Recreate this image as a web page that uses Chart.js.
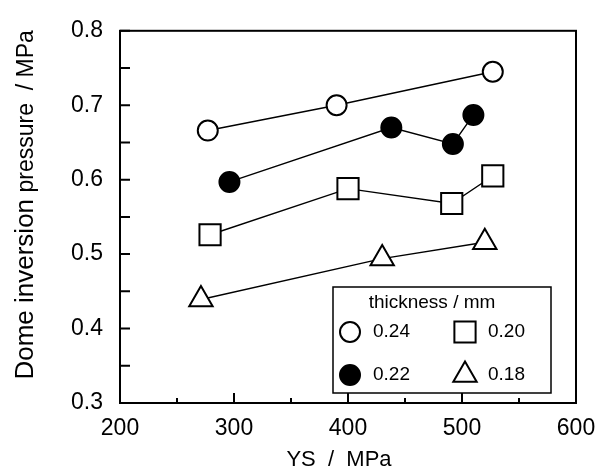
<!DOCTYPE html>
<html>
<head>
<meta charset="utf-8">
<script src="https://cdn.jsdelivr.net/npm/chart.js@4.4.1/dist/chart.umd.min.js"></script>
<style>
  html, body { margin: 0; padding: 0; background: #fff; }
  #wrap { width: 608px; height: 468px; }
</style>
</head>
<body>
<div id="wrap"><canvas id="c" width="608" height="468"></canvas></div>
<script>
"use strict";

// yield strength (MPa) vs dome inversion pressure (MPa), per sheet thickness
const thickLabels = ["0.24", "0.22", "0.20", "0.18"];
const ys024 = [277, 390, 527];
const p024  = [0.666, 0.700, 0.745];
const ys022 = [296, 438, 492, 510];
const p022  = [0.597, 0.670, 0.648, 0.687];
const ys020 = [279, 400, 491, 527];
const p020  = [0.526, 0.588, 0.568, 0.605];
const ys018 = [271, 430, 520];
const p018  = [0.439, 0.494, 0.516];

const xMajor = [200, 300, 400, 500, 600];
const xMinor = [250, 350, 450, 550];
const yMajor = [0.3, 0.4, 0.5, 0.6, 0.7, 0.8];
const yTicks = [0.3, 0.35, 0.4, 0.45, 0.5, 0.55, 0.6, 0.65, 0.7, 0.75, 0.8];

const X_TITLE = "YS  /  MPa";
const Y_TITLE_A = "Dome inversion";
const Y_TITLE_B = " pressure  / MPa";

const FONT = "'Liberation Sans', Arial, Helvetica, sans-serif";
const INK = "#000";

const toPts = (xs, ys) => xs.map((x, i) => ({ x, y: ys[i] }));

function series(label, xs, ys, style, fill, radius) {
  return {
    label,
    data: toPts(xs, ys),
    showLine: true,
    borderColor: INK,
    borderWidth: 1.4,
    pointStyle: style,
    pointRadius: radius,
    pointHoverRadius: radius,
    pointBackgroundColor: fill,
    pointBorderColor: INK,
    pointBorderWidth: 2,
  };
}

/* ── frame + inward ticks ─────────────────────────── */
const framePlugin = {
  id: "frame",
  beforeDatasetsDraw(chart) {
    const { ctx, chartArea: a, scales: { x, y } } = chart;
    ctx.save();
    ctx.strokeStyle = INK;
    ctx.lineWidth = 2;
    ctx.strokeRect(a.left, a.top, a.right - a.left, a.bottom - a.top);
    ctx.beginPath();
    xMajor.forEach(v => {
      const px = x.getPixelForValue(v);
      ctx.moveTo(px, a.bottom); ctx.lineTo(px, a.bottom - 10);
    });
    xMinor.forEach(v => {
      const px = x.getPixelForValue(v);
      ctx.moveTo(px, a.bottom); ctx.lineTo(px, a.bottom - 5);
    });
    yTicks.forEach(v => {
      const py = y.getPixelForValue(v);
      ctx.moveTo(a.left, py); ctx.lineTo(a.left + 10, py);
    });
    ctx.stroke();
    ctx.restore();
  },
};

/* ── axis titles (y title uses two sizes like the original) ── */
const titlesPlugin = {
  id: "titles",
  afterDraw(chart) {
    const { ctx, chartArea: a } = chart;
    ctx.save();
    ctx.fillStyle = INK;
    ctx.textBaseline = "middle";
    ctx.textAlign = "center";
    ctx.font = "22px " + FONT;
    ctx.fillText(X_TITLE, (a.left + a.right) / 2 - 9, chart.height - 8);

    ctx.textAlign = "left";
    ctx.textBaseline = "alphabetic";
    const fA = "26px " + FONT, fB = "23px " + FONT;
    ctx.font = fA; const wA = ctx.measureText(Y_TITLE_A).width;
    ctx.font = fB; const wB = ctx.measureText(Y_TITLE_B).width;
    const mid = (a.top + a.bottom) / 2 - 12;
    ctx.translate(33, mid + (wA + wB) / 2);
    ctx.rotate(-Math.PI / 2);
    ctx.font = fA; ctx.fillText(Y_TITLE_A, 0, 0);
    ctx.font = fB; ctx.fillText(Y_TITLE_B, wA, 0);
    ctx.restore();
  },
};

/* ── boxed 2x2 legend inside plot ─────────────────── */
const legendBox = {
  id: "legendBox",
  afterDatasetsDraw(chart) {
    const { ctx, chartArea: a } = chart;
    const w = 218, h = 106;
    const x1 = a.right - 25 - w, y1 = a.bottom - 10 - h;
    ctx.save();
    ctx.fillStyle = "#fff";
    ctx.fillRect(x1, y1, w, h);
    ctx.strokeStyle = INK;
    ctx.lineWidth = 1.5;
    ctx.strokeRect(x1, y1, w, h);

    ctx.fillStyle = INK;
    ctx.font = "19px " + FONT;
    ctx.textAlign = "center";
    ctx.textBaseline = "middle";
    ctx.fillText("thickness / mm", x1 + 99, y1 + 16);

    ctx.textAlign = "left";
    chart.data.datasets.forEach((ds, i) => {
      const col = Math.floor(i / 2), row = i % 2;
      const mx = x1 + (col ? 132 : 17);
      const my = y1 + (row ? 88 : 45);
      ctx.fillStyle = ds.pointBackgroundColor;
      ctx.strokeStyle = INK;
      ctx.lineWidth = 2;
      Chart.helpers.drawPoint(ctx, { pointStyle: ds.pointStyle, radius: ds.pointRadius, borderWidth: 2, rotation: 0 }, mx, my);
      ctx.fillStyle = INK;
      ctx.fillText(ds.label, mx + 23, my);
    });
    ctx.restore();
  },
};

new Chart(document.getElementById("c"), {
  type: "scatter",
  data: {
    datasets: [
      series(thickLabels[0], ys024, p024, "circle", "#fff", 10),
      series(thickLabels[1], ys022, p022, "circle", INK, 10),
      series(thickLabels[2], ys020, p020, "rect", "#fff", 15),
      series(thickLabels[3], ys018, p018, "triangle", "#fff", 13.5),
    ],
  },
  options: {
    responsive: false,
    animation: false,
    layout: { padding: { left: 0, top: 21, right: 32, bottom: 0 } },
    plugins: { legend: { display: false }, tooltip: { enabled: false } },
    scales: {
      x: {
        type: "linear",
        min: 200, max: 600,
        afterFit: s => { s.height = 65; },
        afterBuildTicks: s => { s.ticks = xMajor.map(v => ({ value: v })); },
        grid: { display: false, drawTicks: false },
        border: { display: false },
        ticks: { color: INK, padding: 12, font: { family: FONT, size: 23 } },
      },
      y: {
        type: "linear",
        min: 0.3, max: 0.8,
        afterFit: s => { s.width = 120; },
        afterBuildTicks: s => { s.ticks = yMajor.map(v => ({ value: v })); },
        grid: { display: false, drawTicks: false },
        border: { display: false },
        ticks: { color: INK, padding: 17, font: { family: FONT, size: 23 }, callback: v => v.toFixed(1) },
      },
    },
  },
  plugins: [framePlugin, titlesPlugin, legendBox],
});
</script>
</body>
</html>
